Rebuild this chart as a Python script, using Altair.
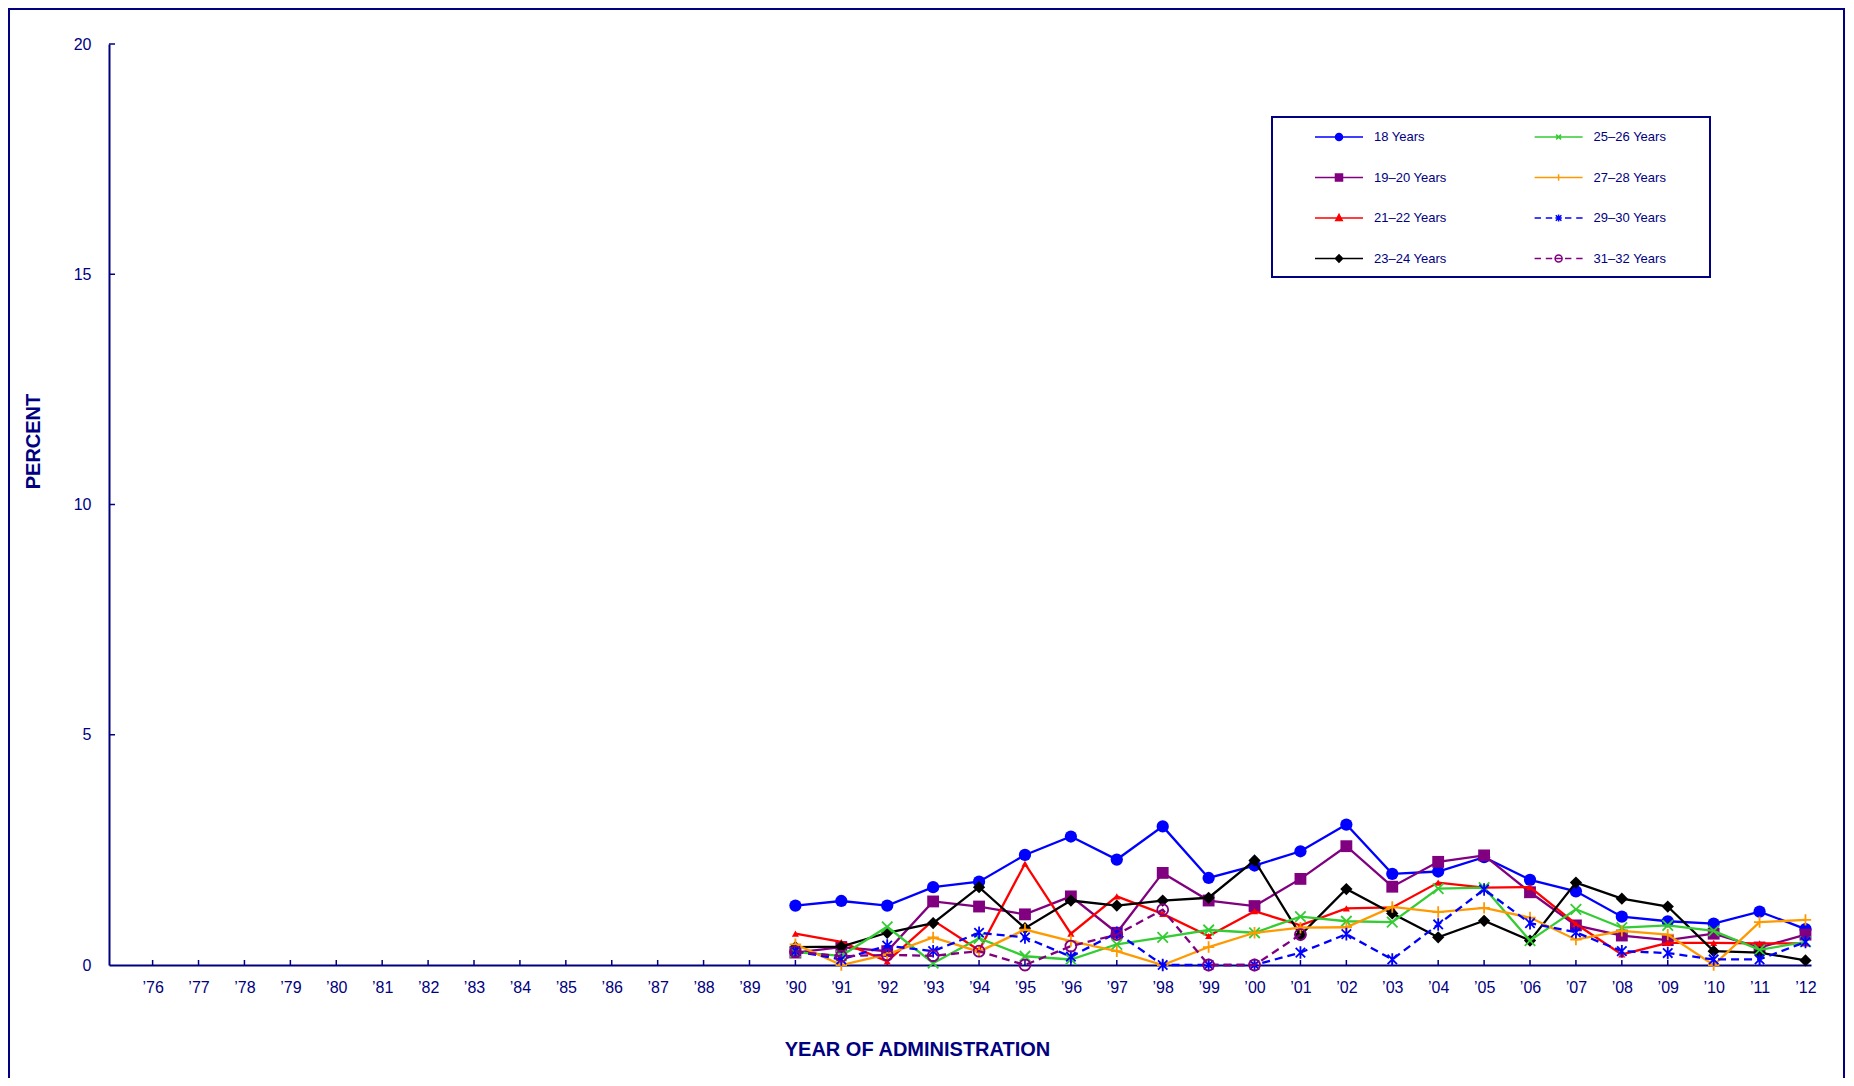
import altair as alt
import pandas as pd

# ---------------- data ----------------
years = list(range(1990, 2013))
tick_years = list(range(1976, 2013))
y_tick_values = [0, 5, 10, 15, 20]
y_inner_ticks = [5, 10, 15, 20]

series_names = ["18 Years", "19–20 Years", "21–22 Years", "23–24 Years",
                "25–26 Years", "27–28 Years", "29–30 Years", "31–32 Years"]

v_18 = [1.29, 1.39, 1.29, 1.69, 1.81, 2.39, 2.79, 2.29, 3.01, 1.89, 2.16, 2.47,
        3.05, 1.98, 2.03, 2.34, 1.85, 1.60, 1.05, 0.95, 0.90, 1.16, 0.78]
v_19_20 = [0.27, 0.39, 0.30, 1.38, 1.27, 1.10, 1.49, 0.70, 2.00, 1.40, 1.28, 1.87,
           2.58, 1.70, 2.24, 2.38, 1.58, 0.86, 0.64, 0.54, 0.68, 0.38, 0.66]
v_21_22 = [0.68, 0.50, 0.08, 0.97, 0.32, 2.20, 0.68, 1.49, 1.11, 0.63, 1.17, 0.86,
           1.23, 1.25, 1.79, 1.68, 1.69, 0.89, 0.23, 0.48, 0.48, 0.47, 0.47]
v_23_24 = [0.39, 0.40, 0.70, 0.91, 1.69, 0.80, 1.40, 1.29, 1.40, 1.46, 2.27, 0.65,
           1.65, 1.12, 0.60, 0.96, 0.53, 1.79, 1.44, 1.27, 0.30, 0.27, 0.10]
v_25_26 = [0.28, 0.20, 0.83, 0.04, 0.58, 0.19, 0.12, 0.45, 0.60, 0.76, 0.70, 1.05,
           0.95, 0.93, 1.66, 1.68, 0.53, 1.21, 0.81, 0.86, 0.74, 0.33, 0.50]
v_27_28 = [0.45, 0.00, 0.23, 0.60, 0.29, 0.77, 0.52, 0.30, 0.00, 0.39, 0.70, 0.81,
           0.82, 1.26, 1.15, 1.24, 1.03, 0.55, 0.74, 0.66, 0.00, 0.93, 0.98]
v_29_30 = [0.30, 0.12, 0.42, 0.30, 0.70, 0.60, 0.18, 0.70, 0.00, 0.00, 0.00, 0.27,
           0.67, 0.12, 0.88, 1.64, 0.91, 0.71, 0.30, 0.26, 0.12, 0.12, 0.50]
v_31_32 = [0.29, 0.19, 0.22, 0.20, 0.30, 0.00, 0.41, 0.66, 1.20, 0.00, 0.00, 0.66,
           None, None, None, None, None, None, None, None, None, None, None]

all_values = [v_18, v_19_20, v_21_22, v_23_24, v_25_26, v_27_28, v_29_30, v_31_32]

rows = []
for name, vals in zip(series_names, all_values):
    for yr, v in zip(years, vals):
        if v is not None:
            rows.append({"year": yr, "value": v, "series": name})
df = pd.DataFrame(rows)

# ---------------- styles ----------------
NAVY = "#000080"
W, H = 1702, 921
X_DOMAIN = [1975.05, 2012.12]

X_SHAPE = "M-1,-1L1,1M-1,1L1,-1"
PLUS_SHAPE = "M-1,0H1M0,-1V1"
AST_SHAPE = "M-0.9,-0.9L0.9,0.9M-0.9,0.9L0.9,-0.9M0,-1.2V1.2"

styles = {
    "18 Years":    dict(color="#0000FF", dash=None, shape="circle", size=150, filled=True),
    "19–20 Years": dict(color="#800080", dash=None, shape="square", size=140, filled=True),
    "21–22 Years": dict(color="#FF0000", dash=None, shape="triangle-up", size=50, filled=True),
    "23–24 Years": dict(color="#000000", dash=None, shape="diamond", size=150, filled=True),
    "25–26 Years": dict(color="#33CC33", dash=None, shape=X_SHAPE, size=110, filled=False),
    "27–28 Years": dict(color="#FF9900", dash=None, shape=PLUS_SHAPE, size=130, filled=False),
    "29–30 Years": dict(color="#0000FF", dash=[8, 5], shape=AST_SHAPE, size=110, filled=False),
    "31–32 Years": dict(color="#800080", dash=[8, 5], shape="circle", size=120, filled=False),
}

# legend symbol paths (1 unit = 8 px with symbolSize 256)
SOLID = "M-3,0H3"
DASHED = "M-3,0H-2.2M-1.6,0H-0.8M-0.4,0H0.4M0.8,0H1.6M2.2,0H3"
CIRC = "M-0.44,0A0.44,0.44,0,1,1,0.44,0A0.44,0.44,0,1,1,-0.44,0Z"
legend_paths = {
    "18 Years": SOLID + CIRC,
    "19–20 Years": SOLID + "M-0.44,-0.44H0.44V0.44H-0.44Z",
    "21–22 Years": SOLID + "M0,-0.45L0.4,0.3H-0.4Z",
    "23–24 Years": SOLID + "M0,-0.45L0.45,0L0,0.45L-0.45,0Z",
    "25–26 Years": SOLID + "M-0.3,-0.3L0.3,0.3M-0.3,0.3L0.3,-0.3",
    "27–28 Years": SOLID + "M0,-0.4V0.4",
    "29–30 Years": DASHED + "M-0.35,-0.35L0.35,0.35M-0.35,0.35L0.35,-0.35M0,-0.45V0.45",
    "31–32 Years": DASHED + CIRC,
}
legend_fill = {n: styles[n]["color"] for n in series_names}
legend_fill["31–32 Years"] = "white"

legend_order = series_names

# ---------------- encodings ----------------
x_axis = alt.Axis(values=tick_years,
                  labelExpr="'\u2019' + substring(toString(datum.value), 2)",
                  ticks=False, tickSize=0, labelPadding=14, labelFontSize=16,
                  title="YEAR OF ADMINISTRATION", titleX=808, titleY=84,
                  titleBaseline="middle", titleAlign="center", labelFlush=False,
                  labelOverlap=False)
y_axis = alt.Axis(values=y_tick_values, ticks=False, tickSize=0, labelPadding=18,
                  labelFontSize=16, title="PERCENT", titleX=-76, titleY=397,
                  titleAngle=270, titleBaseline="middle", titleAlign="center")

x_enc = alt.X("year:Q", scale=alt.Scale(domain=X_DOMAIN, nice=False, zero=False), axis=x_axis)
y_enc = alt.Y("value:Q", scale=alt.Scale(domain=[0, 20], nice=False), axis=y_axis)

layers = []

# outer frame
frame = alt.Chart(alt.Data(values=[{"f": 1}])).mark_rect(
    fillOpacity=0, stroke=NAVY, strokeWidth=2
).encode(x=alt.value(-100), x2=alt.value(1735), y=alt.value(-35), y2=alt.value(1300))
layers.append(frame)

# inward ticks
xt = alt.Chart(pd.DataFrame({"year": tick_years})).mark_tick(
    orient="vertical", size=5, thickness=1.5, color=NAVY, opacity=1, yOffset=-2.5
).encode(x=x_enc, y=alt.value(H))
yt = alt.Chart(pd.DataFrame({"value": y_inner_ticks})).mark_tick(
    orient="horizontal", size=6, thickness=1.5, color=NAVY, opacity=1, xOffset=3
).encode(y=y_enc, x=alt.value(0))
layers += [xt, yt]

for name in series_names:
    st = styles[name]
    base = alt.Chart(df).transform_filter(alt.datum.series == name)
    line_kw = dict(color=st["color"], strokeWidth=2.3)
    if st["dash"]:
        line_kw["strokeDash"] = st["dash"]
    layers.append(base.mark_line(**line_kw).encode(x=x_enc, y=y_enc))
    layers.append(base.mark_point(shape=st["shape"], size=st["size"], filled=st["filled"],
                                  color=st["color"], strokeWidth=1.8, opacity=1)
                  .encode(x=x_enc, y=y_enc))

# invisible right-side legend title only widens the legend box
leg = alt.Legend(orient="none", legendX=1163, legendY=73, columns=2,
                 title="MMM", titleOrient="right", titleColor="white", titlePadding=0,
                 titleFontSize=13, titleFont="Liberation Sans", titleFontWeight="normal",
                 symbolSize=256, symbolStrokeWidth=1.5, symbolOffset=47,
                 labelOffset=26, labelFontSize=13, labelFont="Liberation Sans",
                 labelColor=NAVY, labelLimit=0, rowPadding=24.5, columnPadding=55.6,
                 padding=11, strokeColor=NAVY, fillColor="white")

legend_layer = alt.Chart(df).transform_filter("datum.value < -1").mark_point(
    filled=True, opacity=1, strokeWidth=1.5
).encode(
    x=x_enc, y=y_enc,
    shape=alt.Shape("series:N", scale=alt.Scale(domain=legend_order,
                    range=[legend_paths[n] for n in legend_order]), legend=leg),
    fill=alt.Fill("series:N", scale=alt.Scale(domain=legend_order,
                  range=[legend_fill[n] for n in legend_order]), legend=leg),
    stroke=alt.Stroke("series:N", scale=alt.Scale(domain=legend_order,
                      range=[styles[n]["color"] for n in legend_order]), legend=leg),
)
layers.append(legend_layer)

chart = alt.layer(*layers).properties(
    width=W, height=H,
    autosize=alt.AutoSizeParams(type="none"),
    padding={"left": 101, "top": 36, "right": 35, "bottom": 113},
).configure_view(stroke="transparent").configure_axis(
    labelFont="Liberation Sans", labelColor=NAVY, titleFont="Liberation Sans",
    titleFontSize=20, titleFontWeight="bold", titleColor=NAVY,
    domainColor=NAVY, domainWidth=2, grid=False
).configure_legend(strokeWidth=2)

chart.save("out.html", embed_options={"renderer": "svg", "actions": False})
